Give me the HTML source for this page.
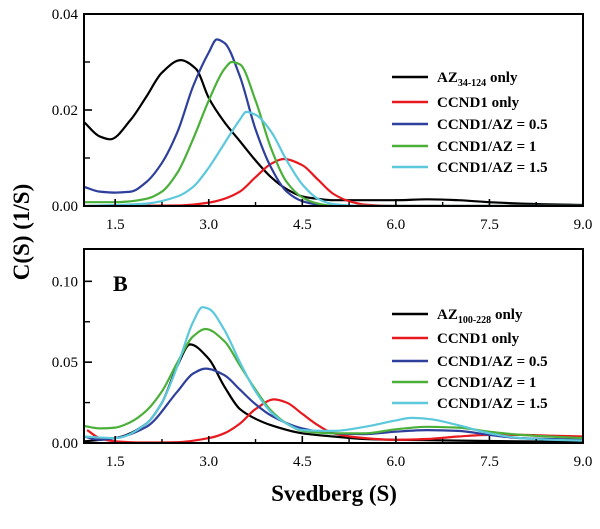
<!DOCTYPE html>
<html><head><meta charset="utf-8"><style>
html,body{margin:0;padding:0;background:#fff}
svg text{font-family:"Liberation Serif",serif}
</style></head><body>
<svg id="chart" width="600" height="524" xmlns="http://www.w3.org/2000/svg"></svg>
<script>
// ---- data: x values (Svedberg) ----
const xTicks = [1.5, 3.0, 4.5, 6.0, 7.5, 9.0];
const xTickLabels = ["1.5", "3.0", "4.5", "6.0", "7.5", "9.0"];
const topYTicks = [0.00, 0.02, 0.04];
const topYTickLabels = ["0.00", "0.02", "0.04"];
const botYTicks = [0.00, 0.05, 0.10];
const botYTickLabels = ["0.00", "0.05", "0.10"];
const seriesNames = ["AZ only", "CCND1 only", "CCND1/AZ = 0.5", "CCND1/AZ = 1", "CCND1/AZ = 1.5"];
const seriesColors = ["#000000", "#e8191e", "#2e3f9c", "#4bb03a", "#5bc8dc"];

// Panel A
const aBlackX = [1.0,1.25,1.42,1.75,2.0,2.25,2.55,2.8,3.0,3.25,3.5,3.75,4.0,4.25,4.5,4.75,5.0,6.0,6.5,7.0,7.5,8.0,9.0];
const aBlackY = [0.0175,0.0145,0.0139,0.018,0.0228,0.0278,0.0304,0.0285,0.0225,0.0175,0.0135,0.0095,0.006,0.0035,0.002,0.0015,0.0012,0.0012,0.0014,0.0012,0.0008,0.0005,0.0002];
const aRedX = [1.0,2.5,3.0,3.25,3.5,3.75,4.0,4.2,4.5,4.75,5.0,5.25,5.5,6.0,9.0];
const aRedY = [0,0.0001,0.0007,0.0015,0.003,0.006,0.0088,0.0098,0.0085,0.0055,0.0025,0.001,0.0003,0,0];
const aBlueX = [1.0,1.25,1.5,1.75,2.0,2.25,2.5,2.75,3.0,3.13,3.25,3.5,3.75,4.0,4.25,4.5,4.75,5.0,9.0];
const aBlueY = [0.004,0.003,0.0028,0.003,0.005,0.009,0.0155,0.025,0.032,0.0347,0.034,0.027,0.016,0.008,0.003,0.001,0.0003,0,0];
const aGreenX = [1.0,1.5,2.0,2.25,2.5,2.75,3.0,3.25,3.37,3.5,3.75,4.0,4.25,4.5,4.75,5.0,9.0];
const aGreenY = [0.0008,0.0008,0.0015,0.003,0.007,0.014,0.022,0.0285,0.030,0.0295,0.022,0.012,0.005,0.0018,0.0005,0,0];
const aCyanX = [1.0,1.5,2.0,2.5,2.75,3.0,3.25,3.5,3.6,3.75,4.0,4.25,4.5,4.75,5.0,5.5,9.0];
const aCyanY = [0,0.0002,0.0005,0.002,0.004,0.008,0.013,0.018,0.0196,0.019,0.0155,0.0095,0.0045,0.0015,0.0004,0,0];

// Panel B
const bBlackX = [1.0,1.5,2.0,2.25,2.5,2.7,3.0,3.25,3.5,3.75,4.0,4.5,5.0,5.5,6.0,7.0,8.0,9.0];
const bBlackY = [0.001,0.003,0.012,0.025,0.048,0.061,0.052,0.035,0.021,0.015,0.011,0.006,0.004,0.0025,0.002,0.0015,0.001,0.0008];
const bRedX = [1.05,1.25,1.5,2.0,2.5,3.0,3.25,3.5,3.75,4.05,4.25,4.5,4.75,5.0,5.5,6.0,6.5,7.0,7.5,8.0,8.5,9.0];
const bRedY = [0.008,0.003,0.001,0.0003,0.0005,0.003,0.006,0.012,0.021,0.027,0.025,0.018,0.011,0.006,0.003,0.002,0.0025,0.004,0.005,0.005,0.0045,0.004];
const bBlueX = [1.0,1.25,1.5,2.0,2.5,2.75,2.95,3.25,3.5,3.75,4.0,4.5,5.0,5.5,6.0,6.5,7.0,7.5,8.0,9.0];
const bBlueY = [0.004,0.002,0.003,0.01,0.032,0.043,0.046,0.042,0.033,0.024,0.017,0.009,0.006,0.0055,0.007,0.008,0.0075,0.005,0.003,0.002];
const bGreenX = [1.0,1.25,1.5,1.75,2.0,2.25,2.5,2.75,2.95,3.25,3.5,3.75,4.0,4.25,4.5,5.0,5.5,6.0,6.5,7.0,7.5,8.0,9.0];
const bGreenY = [0.0105,0.009,0.0095,0.013,0.02,0.032,0.05,0.066,0.0705,0.063,0.048,0.033,0.02,0.012,0.0075,0.006,0.006,0.0085,0.01,0.0095,0.007,0.005,0.003];
const bCyanX = [1.0,1.5,2.0,2.25,2.5,2.75,2.9,3.0,3.25,3.5,3.75,4.0,4.25,4.5,5.0,5.5,6.0,6.25,6.5,7.0,7.5,8.0,8.5,9.0];
const bCyanY = [0.004,0.003,0.012,0.025,0.048,0.075,0.084,0.083,0.07,0.05,0.032,0.019,0.012,0.008,0.0075,0.01,0.014,0.0155,0.015,0.011,0.006,0.003,0.002,0.0015];

const NS = "http://www.w3.org/2000/svg";
const svg = document.getElementById("chart");
function mk(tag, attrs, parent) {
  const e = document.createElementNS(NS, tag);
  for (const k in attrs) e.setAttribute(k, attrs[k]);
  (parent || svg).appendChild(e);
  return e;
}
const X0 = 84, X1 = 583, XMIN = 1.0, XMAX = 9.0;
function xs(v) { return X0 + (v - XMIN) / (XMAX - XMIN) * (X1 - X0); }
// monotone cubic (Fritsch-Carlson) path
function pathFor(xArr, yArr, ys) {
  const px = xArr.map(xs), py = yArr.map(v => ys(Math.max(0, v)));
  const n = px.length, d = [], m = [];
  for (let i = 0; i < n - 1; i++) d.push((py[i + 1] - py[i]) / (px[i + 1] - px[i]));
  m[0] = d[0]; m[n - 1] = d[n - 2];
  for (let i = 1; i < n - 1; i++) {
    if (d[i - 1] * d[i] <= 0) m[i] = 0;
    else {
      const h0 = px[i] - px[i - 1], h1 = px[i + 1] - px[i];
      const w1 = 2 * h1 + h0, w2 = h1 + 2 * h0;
      m[i] = (w1 + w2) / (w1 / d[i - 1] + w2 / d[i]);
    }
  }
  let s = "M" + px[0].toFixed(1) + "," + py[0].toFixed(1);
  for (let i = 0; i < n - 1; i++) {
    const h = (px[i + 1] - px[i]) / 3;
    s += " C" + (px[i] + h).toFixed(1) + "," + (py[i] + m[i] * h).toFixed(1) + " " +
      (px[i + 1] - h).toFixed(1) + "," + (py[i + 1] - m[i + 1] * h).toFixed(1) + " " +
      px[i + 1].toFixed(1) + "," + py[i + 1].toFixed(1);
  }
  return s;
}

function panel(cfg) {
  const g = mk("g", {});
  
  
  const ys = v => cfg.yb - v / cfg.ymax * (cfg.yb - cfg.yt);
  const clipId = cfg.name + "-clip";
  const cp = mk("clipPath", { id: clipId }, g);
  mk("rect", { x: X0, y: cfg.yt, width: X1 - X0, height: cfg.yb - cfg.yt }, cp);
  const lines = mk("g", { "clip-path": "url(#" + clipId + ")" }, g);
  cfg.series.forEach((s, i) => {
    const path = mk("path", { d: pathFor(s[0], s[1], ys), fill: "none", stroke: seriesColors[i], "stroke-width": 2.2, "stroke-linejoin": "round" }, lines);
    
    
  });
  const frame = mk("rect", { x: X0, y: cfg.yt, width: X1 - X0, height: cfg.yb - cfg.yt, fill: "none", stroke: "#000", "stroke-width": 2 }, g);
  
  
  xTicks.forEach((t, i) => {
    mk("line", { x1: xs(t), x2: xs(t), y1: cfg.yb, y2: cfg.yb - 7, stroke: "#000", "stroke-width": 1.6 }, g);
    if (i < xTicks.length - 1) {
      const m = t + 0.75;
      mk("line", { x1: xs(m), x2: xs(m), y1: cfg.yb, y2: cfg.yb - 4, stroke: "#000", "stroke-width": 1.4 }, g);
    }
    const lab = mk("text", { x: xs(t), y: cfg.yb + 23, "font-size": 15, "text-anchor": "middle" }, g);
    lab.textContent = xTickLabels[i];
    
    
  });
  cfg.yTicks.forEach((t, i) => {
    mk("line", { x1: X0, x2: X0 + 8, y1: ys(t), y2: ys(t), stroke: "#000", "stroke-width": 1.6 }, g);
    if (i < cfg.yTicks.length - 1) {
      const m = (t + cfg.yTicks[i + 1]) / 2;
      mk("line", { x1: X0, x2: X0 + 6, y1: ys(m), y2: ys(m), stroke: "#000", "stroke-width": 1.4 }, g);
    }
    const lab = mk("text", { x: X0 - 6, y: ys(t) + 5, "font-size": 15, "text-anchor": "end" }, g);
    lab.textContent = cfg.yLabels[i];
    
    
  });
  cfg.legendY.forEach((ly, i) => {
    const le = mk("g", {}, g);
    
    
    mk("line", { x1: 392, x2: 428, y1: ly, y2: ly, stroke: seriesColors[i], "stroke-width": 2.4 }, le);
    const tx = mk("text", { x: 437, y: ly + 5, "font-size": 15, "font-weight": "bold" }, le);
    if (i === 0) {
      tx.innerHTML = 'AZ<tspan font-size="10" dy="4">' + cfg.sub + '</tspan><tspan dy="-4"> only</tspan>';
    } else {
      tx.textContent = seriesNames[i];
    }
  });
  return g;
}

panel({ name: "panel-a", yt: 14, yb: 206, ymax: 0.04, yTicks: topYTicks, yLabels: topYTickLabels,
  legendY: [77, 102, 124, 146, 167], sub: "34-124",
  series: [[aBlackX, aBlackY], [aRedX, aRedY], [aBlueX, aBlueY], [aGreenX, aGreenY], [aCyanX, aCyanY]] });
panel({ name: "panel-b", yt: 249, yb: 443, ymax: 0.12, yTicks: botYTicks, yLabels: botYTickLabels,
  legendY: [314, 338, 361, 382, 403], sub: "100-228",
  series: [[bBlackX, bBlackY], [bRedX, bRedY], [bBlueX, bBlueY], [bGreenX, bGreenY], [bCyanX, bCyanY]] });

const B = mk("text", { x: 113, y: 291, "font-size": 22, "font-weight": "bold" });
B.textContent = "B";



const xt = mk("text", { x: 334, y: 501, "font-size": 23, "font-weight": "bold", "text-anchor": "middle" });
xt.textContent = "Svedberg (S)";



const yt = mk("text", { x: 0, y: 0, "font-size": 23, "font-weight": "bold", "text-anchor": "middle", transform: "translate(29,232) rotate(-90)" });
yt.textContent = "C(S) (1/S)";


</script>
</body></html>
